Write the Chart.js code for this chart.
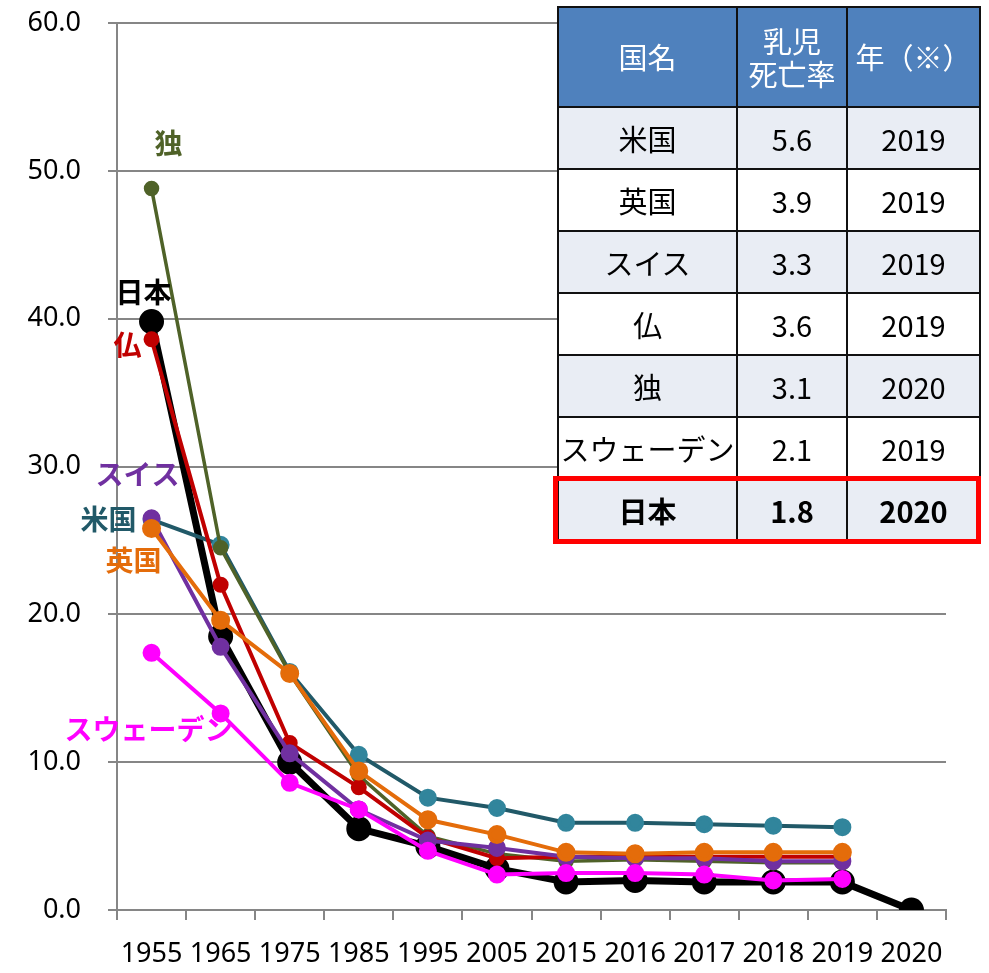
<!DOCTYPE html>
<html lang="ja">
<head>
<meta charset="utf-8">
<script src="https://cdn.jsdelivr.net/npm/chart.js@4"></script>
<style>
  body { margin: 0; background: #fff; }
  #wrap { position: relative; width: 989px; height: 973px; }
  #tabla {
    position: absolute; left: 557px; top: 6px;
    border-collapse: collapse; table-layout: fixed;
    font-family: "Noto Sans CJK JP", sans-serif; font-size: 29px; color: #000;
  }
  #tabla td, #tabla th { border: 2px solid #111; text-align: center; padding: 0; font-weight: normal; background: #fff; }
  #tabla th { background: #4F81BD; color: #fff; height: 98px; line-height: 1.15; }
  #tabla td { height: 60px; }
  #tabla tr.claro td { background: #E9EDF4; }
  #tabla tr.japon td { font-weight: bold; }
  #marco { position: absolute; left: 553px; top: 476px; width: 418px; height: 58px; border: 5px solid #FF0000; pointer-events: none; }
</style>
</head>
<body>
<div id="wrap">
  <canvas id="myChart" width="989" height="973"></canvas>
  <table id="tabla"></table>
  <div id="marco"></div>
</div>
<script>
const anios = ["1955", "1965", "1975", "1985", "1995", "2005", "2015", "2016", "2017", "2018", "2019", "2020"];

const japon = [39.8, 18.5, 10.0, 5.5, 4.3, 2.8, 1.9, 2.0, 1.9, 1.9, 1.9, 0.0];
const eeuu = [26.4, 24.7, 16.1, 10.5, 7.6, 6.9, 5.9, 5.9, 5.8, 5.7, 5.6, null];
const alemania = [48.8, 24.5, 16.0, 9.1, 5.0, 3.8, 3.3, 3.4, 3.3, 3.2, 3.2, null];
const francia = [38.6, 22.0, 11.3, 8.3, 4.9, 3.5, 3.6, 3.6, 3.6, 3.6, 3.6, null];
const suiza = [26.5, 17.8, 10.6, 6.8, 4.7, 4.2, 3.6, 3.5, 3.5, 3.3, 3.3, null];
const reinoUnido = [25.8, 19.6, 16.0, 9.4, 6.1, 5.1, 3.9, 3.8, 3.9, 3.9, 3.9, null];
const suecia = [17.4, 13.3, 8.6, 6.8, 4.0, 2.4, 2.5, 2.5, 2.4, 2.0, 2.1, null];

// tabla de la esquina
const cabecera = ["国名", "乳児<br>死亡率", "年（※）"];
const paises = ["米国", "英国", "スイス", "仏", "独", "スウェーデン", "日本"];
const tasas = ["5.6", "3.9", "3.3", "3.6", "3.1", "2.1", "1.8"];
const aniosTabla = ["2019", "2019", "2019", "2019", "2020", "2019", "2020"];

const tabla = document.getElementById("tabla");
let html = `<colgroup><col style="width:179px"><col style="width:110px"><col style="width:133px"></colgroup>`;
html += "<tr>" + cabecera.map(h => `<th>${h}</th>`).join("") + "</tr>";
paises.forEach((p, i) => {
  let clase = i % 2 === 0 ? "claro" : "";
  if (i === paises.length - 1) clase += " japon";
  html += `<tr class="${clase}"><td>${p}</td><td>${tasas[i]}</td><td>${aniosTabla[i]}</td></tr>`;
});
tabla.innerHTML = html;

function serie(datos, linea, punto, grosor, radio) {
  return {
    data: datos,
    borderColor: linea,
    backgroundColor: punto,
    pointBackgroundColor: punto,
    pointBorderColor: punto,
    borderWidth: grosor,
    pointRadius: radio,
    pointHoverRadius: radio,
    tension: 0,
    spanGaps: false
  };
}

// el primero queda arriba
const datasets = [
  serie(suecia, "#FF00FF", "#FF00FF", 4, 7),
  serie(reinoUnido, "#E46C0A", "#E46C0A", 4, 7.5),
  serie(suiza, "#7030A0", "#7030A0", 4, 7),
  serie(francia, "#C00000", "#C00000", 4, 6),
  serie(alemania, "#4F6228", "#4F6228", 3.5, 6),
  serie(eeuu, "#215968", "#31859C", 4, 7),
  serie(japon, "#000000", "#000000", 7, 9)
];

// etiquetas junto al punto de 1955
const etiquetas = [
  { ds: 4, texto: "独", color: "#4F6228", dx: 17, dy: -45 },
  { ds: 6, texto: "日本", color: "#000000", dx: -8, dy: -29 },
  { ds: 3, texto: "仏", color: "#C00000", dx: -24, dy: 6 },
  { ds: 2, texto: "スイス", color: "#7030A0", dx: -14, dy: -44 },
  { ds: 5, texto: "米国", color: "#215968", dx: -43, dy: 0 },
  { ds: 1, texto: "英国", color: "#E46C0A", dx: -18, dy: 32 },
  { ds: 0, texto: "スウェーデン", color: "#FF00FF", dx: -3, dy: 77 }
];

const pluginEtiquetas = {
  id: "etiquetas",
  afterDatasetsDraw(chart) {
    const ctx = chart.ctx;
    ctx.save();
    ctx.font = 'bold 28px "Noto Sans CJK JP"';
    ctx.textAlign = "center";
    ctx.textBaseline = "middle";
    etiquetas.forEach(e => {
      const p = chart.getDatasetMeta(e.ds).data[0];
      ctx.fillStyle = e.color;
      ctx.fillText(e.texto, p.x + e.dx, p.y + e.dy);
    });
    ctx.restore();
  }
};

const fuenteEjes = { family: '"Noto Sans", sans-serif', size: 27 };

new Chart(document.getElementById("myChart"), {
  type: "line",
  data: { labels: anios, datasets: datasets },
  plugins: [pluginEtiquetas],
  options: {
    responsive: false,
    animation: false,
    layout: { padding: { top: 23, right: 43, left: 0, bottom: 0 } },
    plugins: { legend: { display: false }, tooltip: { enabled: false } },
    scales: {
      x: {
        offset: true,
        grid: { offset: true, drawOnChartArea: false, drawTicks: true, tickLength: 10, color: "#868686", lineWidth: 2 },
        border: { color: "#868686", width: 2 },
        ticks: { color: "#000", font: fuenteEjes, padding: 18, maxRotation: 0, autoSkip: false },
        afterFit(scale) { scale.height = 63; }
      },
      y: {
        min: 0,
        max: 60,
        ticks: { stepSize: 10, color: "#000", font: fuenteEjes, padding: 27, callback: v => v.toFixed(1) },
        grid: { color: "#868686", lineWidth: 2, tickLength: 9 },
        border: { color: "#868686", width: 2 },
        afterFit(scale) {
          scale.width = 117;
          scale.paddingTop = 0;
          scale.paddingBottom = 0;
        }
      }
    }
  }
});
</script>
</body>
</html>
